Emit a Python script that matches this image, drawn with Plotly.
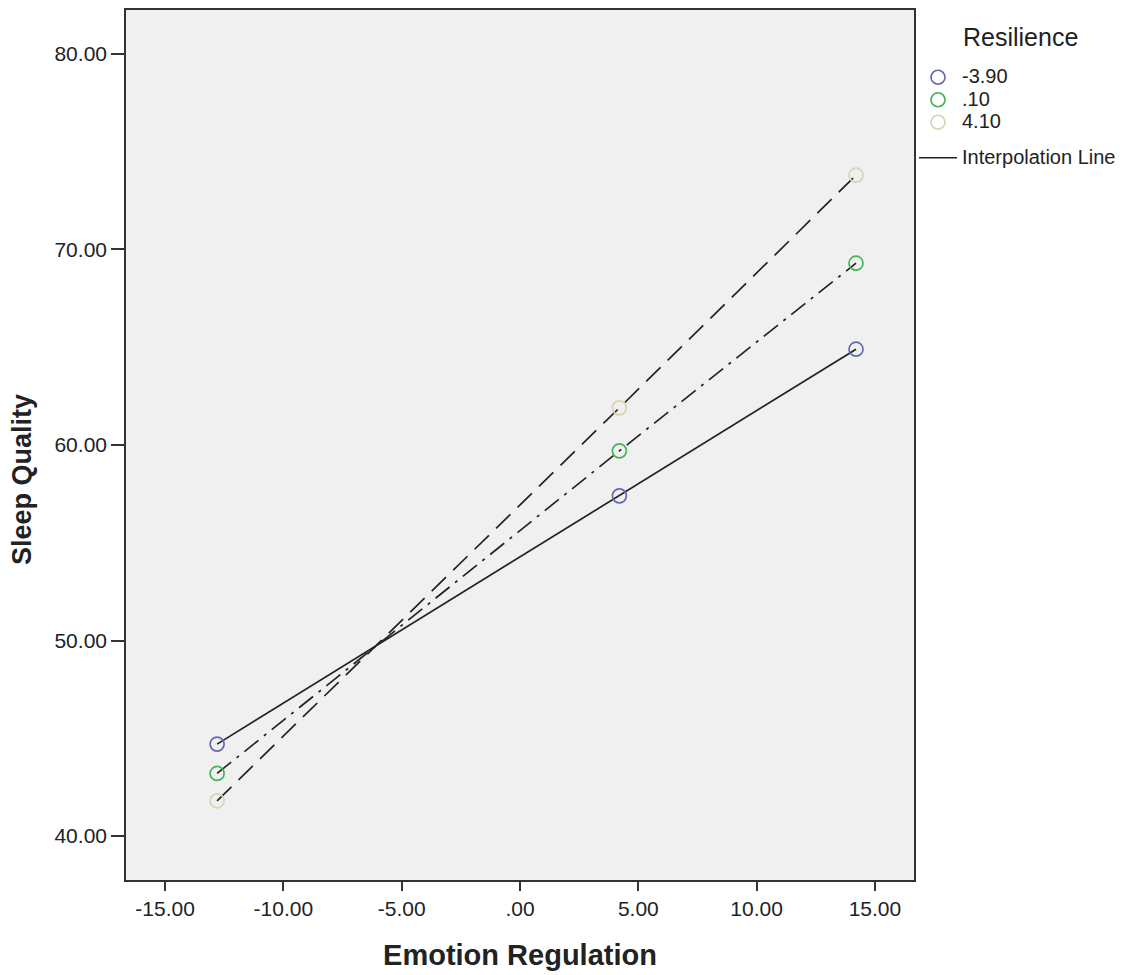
import plotly.graph_objects as go

# Data
emotion_regulation = [-12.8, 4.2, 14.2]
resilience_levels = ["-3.90", ".10", "4.10"]
sleep_quality = {
    "-3.90": [44.7, 57.4, 64.9],
    ".10": [43.2, 59.7, 69.3],
    "4.10": [41.8, 61.9, 73.8],
}
x_tick_vals = [-15, -10, -5, 0, 5, 10, 15]
x_tick_text = ["-15.00", "-10.00", "-5.00", ".00", "5.00", "10.00", "15.00"]
y_tick_vals = [40, 50, 60, 70, 80]
y_tick_text = ["40.00", "50.00", "60.00", "70.00", "80.00"]

marker_colors = {"-3.90": "#6268b4", ".10": "#45b458", "4.10": "#d8d5b0"}
line_dashes = {"-3.90": "solid", ".10": "18px,7px,3px,7px", "4.10": "20px,10px"}

FONT = "Liberation Sans, Arial, sans-serif"


def big(txt):
    return '<span style="font-size:20px">' + txt + "</span>"


fig = go.Figure()

# interpolation lines
for lvl in resilience_levels:
    fig.add_trace(go.Scatter(
        x=emotion_regulation, y=sleep_quality[lvl], mode="lines",
        line=dict(color="#222222", width=1.7, dash=line_dashes[lvl]),
        showlegend=False, hoverinfo="skip"))

# markers
for lvl in resilience_levels:
    fig.add_trace(go.Scatter(
        x=emotion_regulation, y=sleep_quality[lvl], mode="markers", name=big(lvl),
        legendgroup="pts",
        marker=dict(symbol="circle-open", size=14, color=marker_colors[lvl],
                    line=dict(width=1.7, color=marker_colors[lvl]))))

# legend entry for interpolation line
fig.add_trace(go.Scatter(
    x=[None], y=[None], mode="lines", name=big("Interpolation Line"),
    legendgroup="line", line=dict(color="#222222", width=1.7)))

axis_common = dict(
    showgrid=False, zeroline=False, showline=True, linecolor="#333333",
    linewidth=1.6, mirror=True, ticks="outside", tickwidth=1.6,
    tickcolor="#333333", automargin=False,
    tickfont=dict(family=FONT, size=21, color="#222222"),
)

fig.update_layout(
    width=1129, height=975,
    margin=dict(l=118, r=223, t=2, b=103),
    paper_bgcolor="white", plot_bgcolor="#f0f0f0",
    font=dict(family=FONT, size=20, color="#222222"),
    xaxis=dict(range=[-16.65, 16.65], tickvals=x_tick_vals, ticktext=x_tick_text,
               ticklen=9,
               title=dict(text="<b>Emotion Regulation</b>", font=dict(size=29), standoff=26),
               **axis_common),
    yaxis=dict(range=[37.75, 82.25], tickvals=y_tick_vals, ticktext=y_tick_text,
               ticklen=13, **axis_common),
    annotations=[
        dict(text="<b>Sleep Quality</b>", textangle=-90, xref="paper", yref="paper",
             x=(22 - 126) / 788, y=(880 - 480) / 870, xanchor="center", yanchor="middle",
             showarrow=False, font=dict(family=FONT, size=27, color="#222222")),
        dict(text="Resilience", xref="paper", yref="paper",
             x=(1020 - 126) / 788, y=(880 - 37) / 870, xanchor="center", yanchor="middle",
             showarrow=False, font=dict(family=FONT, size=25, color="#222222")),
    ],
    legend=dict(
        x=1.0, y=(880 - 61) / 870, xanchor="left", yanchor="top",
        font=dict(size=15), traceorder="grouped", tracegroupgap=13, itemwidth=38,
        bgcolor="rgba(0,0,0,0)",
    ),
)

fig.write_html("out.html")
